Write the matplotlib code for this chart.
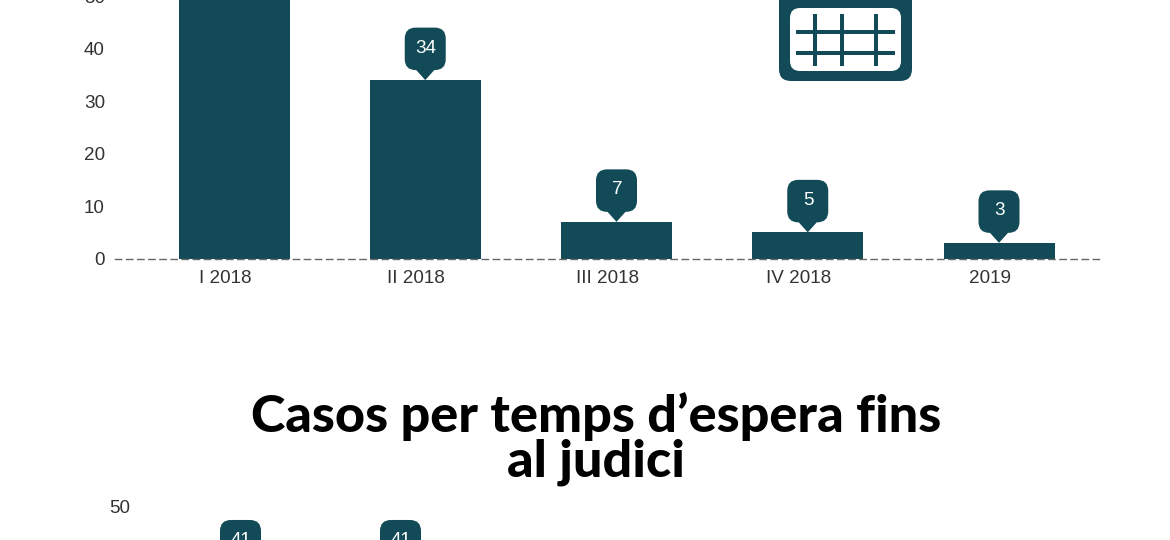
import matplotlib
matplotlib.use("Agg")
import matplotlib.pyplot as plt
from matplotlib.collections import PathCollection
from matplotlib.patches import FancyBboxPatch, Rectangle
from matplotlib.path import Path
from matplotlib.transforms import IdentityTransform, ScaledTranslation

plt.rcParams["font.family"] = ["Liberation Sans", "DejaVu Sans"]

# data (first bar and its label run off the top)
periods = ["I 2018", "II 2018", "III 2018", "IV 2018", "2019"]
cases_period = [53, 34, 7, 5, 3]
top_ticks = [0, 10, 20, 30, 40, 50]

wait_positions = [0, 1]
cases_wait = [41, 41]
bottom_ticks = [50]

title = "Casos per temps d’espera fins\nal judici"

TEAL = "#124b57"
TICK_SIZE = 13.6
W, H = 1170, 540


def px_axes(fig, left, right, top, bottom):
    # axes placed by reference pixels, may stick out of the canvas
    return fig.add_axes([left / W, 1 - bottom / H, (right - left) / W, (bottom - top) / H])


def bubble_path():
    # rounded label with a small pointer, in pixels, tip at (0, 0)
    hw, r = 20.5, 11
    y0, y1 = 10, 52.5
    verts = [
        (-9, y0), (-hw + r, y0), (-hw, y0), (-hw, y0 + r), (-hw, y1 - r), (-hw, y1), (-hw + r, y1),
        (hw - r, y1), (hw, y1), (hw, y1 - r), (hw, y0 + r), (hw, y0), (hw - r, y0),
        (9, y0), (0, 0), (-9, y0), (-9, y0),
    ]
    c = [
        Path.MOVETO, Path.LINETO, Path.CURVE3, Path.CURVE3, Path.LINETO, Path.CURVE3, Path.CURVE3,
        Path.LINETO, Path.CURVE3, Path.CURVE3, Path.LINETO, Path.CURVE3, Path.CURVE3,
        Path.LINETO, Path.LINETO, Path.LINETO, Path.CLOSEPOLY,
    ]
    return Path(verts, c)


def add_bubbles(ax, xs, values):
    bubbles = PathCollection(
        [bubble_path()],
        offsets=list(zip(xs, values)),
        offset_transform=ax.transData,
        transform=IdentityTransform(),
        facecolors=TEAL,
        edgecolors="none",
        zorder=4,
    )
    ax.add_collection(bubbles)
    for x, v in zip(xs, values):
        ax.annotate(str(v), (x, v), xytext=(0.7, 32 * 0.72), textcoords="offset points",
                    ha="center", va="center", color="white", fontsize=13.6, zorder=5)


fig = plt.figure(figsize=(W / 100, H / 100), dpi=100, facecolor="white")

# ------------------------------------------------------------
# top chart
# ------------------------------------------------------------
top_scale = 5.25
zero_y = 258.6
ax = px_axes(fig, 115, 1103, zero_y - 60 * top_scale, zero_y)
step = 191.25
ax.set_xlim(-(234 - 115) / step, (1103 - 234) / step)
ax.set_ylim(0, 60)

x_pos = list(range(len(periods)))
ax.bar(x_pos, cases_period, width=111 / step, color=TEAL, zorder=2)
add_bubbles(ax, x_pos, cases_period)

for s in ["top", "left", "right"]:
    ax.spines[s].set_visible(False)
ax.spines["bottom"].set_color("#666666")
ax.spines["bottom"].set_linestyle((0, (4.5, 3.5)))
ax.spines["bottom"].set_linewidth(1)
ax.spines["bottom"].set_zorder(3)
ax.set_xticks(x_pos)
ax.set_xticklabels(periods)
ax.set_yticks(top_ticks)
ax.tick_params(axis="both", length=0, labelsize=TICK_SIZE, labelcolor="#333333")
ax.tick_params(axis="x", pad=8)
ax.tick_params(axis="y", pad=7.3)

# tick labels sit a bit left of the bars in the original
shift = ScaledTranslation(-9 / 100, 0, fig.dpi_scale_trans)
for lab in ax.get_xticklabels():
    lab.set_transform(lab.get_transform() + shift)

# ------------------------------------------------------------
# bottom chart, only the top of it is on the canvas
# ------------------------------------------------------------
bot_scale = 7.33
bot_zero = 506.5 + 50 * bot_scale
ax2 = px_axes(fig, 130, 1103, 506.5, bot_zero)
step2 = 160
ax2.set_xlim(-(240.5 - 130) / step2, (1103 - 240.5) / step2)
ax2.set_ylim(0, 50)
ax2.bar(wait_positions, cases_wait, width=0.55, color=TEAL, zorder=2)
ax2.set_xticks([])
ax2.set_yticks(bottom_ticks)
ax2.tick_params(axis="y", length=0, labelsize=TICK_SIZE, labelcolor="#333333", pad=0)
for s in ax2.spines.values():
    s.set_visible(False)
ax2.patch.set_alpha(0)
add_bubbles(ax2, wait_positions, cases_wait)
for c in ax2.collections + ax2.texts:
    c.set_clip_on(False)

fig.text(596 / W, 1 - 439 / H, title, ha="center", va="center", fontsize=37.5,
         fontweight=900, family=["Lato", "DejaVu Sans"], color="black", linespacing=0.92)

# ------------------------------------------------------------
# calendar icon, top right
# ------------------------------------------------------------
deco = fig.add_axes([0, 0, 1, 1])
deco.set_xlim(0, W)
deco.set_ylim(H, 0)
deco.axis("off")
deco.patch.set_alpha(0)
deco.add_patch(FancyBboxPatch((779 + 12, -40 + 12), 133 - 24, 121 - 24,
                              boxstyle="round,pad=12,rounding_size=12", fc=TEAL, ec="none"))
deco.add_patch(FancyBboxPatch((790 + 10, 8 + 10), 111 - 20, 63 - 20,
                              boxstyle="round,pad=10,rounding_size=10", fc="white", ec="none"))
for gx in [815, 842, 876]:
    deco.add_patch(Rectangle((gx - 2.3, 14), 4.6, 52, fc=TEAL, ec="none"))
for gy in [32, 53]:
    deco.add_patch(Rectangle((796, gy - 2.3), 99, 4.6, fc=TEAL, ec="none"))

fig.savefig("out.png", dpi=100)
